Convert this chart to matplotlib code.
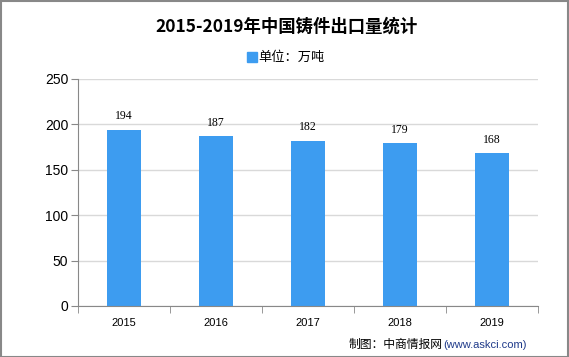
import matplotlib.pyplot as plt
import numpy as np

plt.rcParams['font.family'] = ['Noto Sans CJK SC', 'DejaVu Sans']

years = ['2015', '2016', '2017', '2018', '2019']
exports = [194, 187, 182, 179, 168]
bar_color = '#3d9cf0'

fig = plt.figure(figsize=(5.69, 3.57), dpi=100)
ax = fig.add_axes([0.137, 0.143, 0.8085, 0.636])

x = np.arange(len(years))
ax.bar(x, exports, width=0.37, color=bar_color, zorder=2)
for xi, v in zip(x, exports):
    ax.text(xi, v + 8, str(v), ha='center', va='bottom', fontsize=8.5,
            family=['Liberation Serif', 'DejaVu Serif'])

ax.set_xlim(-0.5, len(years) - 0.5)
ax.set_ylim(0, 250)
ax.set_yticks(range(0, 251, 50))
ax.set_xticks(x)
ax.set_xticklabels(years, fontsize=8, family=['Liberation Sans', 'DejaVu Sans'])
ax.set_xticks(np.arange(-0.5, len(years)), minor=True)
ax.tick_params(axis='x', which='major', length=0, pad=9)
ax.tick_params(axis='x', which='minor', length=5, color='#888888')
ax.tick_params(axis='y', length=5, color='#888888', labelsize=10, pad=2)
for lab in ax.get_yticklabels():
    lab.set_family(['Liberation Sans', 'DejaVu Sans'])
ax.grid(axis='y', color='#d9d9d9', linewidth=1, zorder=0)
for s in ['top', 'right']:
    ax.spines[s].set_visible(False)
ax.spines['left'].set_color('#888888')
ax.spines['bottom'].set_color('#888888')

fig.text(0.503, 0.925, '2015-2019年中国铸件出口量统计', ha='center', va='center',
         fontsize=12.5, fontweight='bold')
fig.patches.append(plt.Rectangle((0.434, 0.826), 0.017, 0.027, color=bar_color,
                                 transform=fig.transFigure, figure=fig))
fig.text(0.454, 0.840, '单位：万吨', ha='left', va='center', fontsize=9.5)

fig.text(0.612, 0.035, '制图：中商情报网', ha='left', va='center', fontsize=8.5)
fig.text(0.779, 0.035, '(www.askci.com)', ha='left', va='center', fontsize=8,
         color='#1f3a8a', family=['Liberation Sans', 'DejaVu Sans'])

# thin gray frame like the original screenshot
fig.patches.append(plt.Rectangle((0.001, 0.0), 0.997, 0.996, fill=False,
                                 edgecolor='#888888', linewidth=1.5,
                                 transform=fig.transFigure, figure=fig))

fig.savefig('out.png', dpi=100)
